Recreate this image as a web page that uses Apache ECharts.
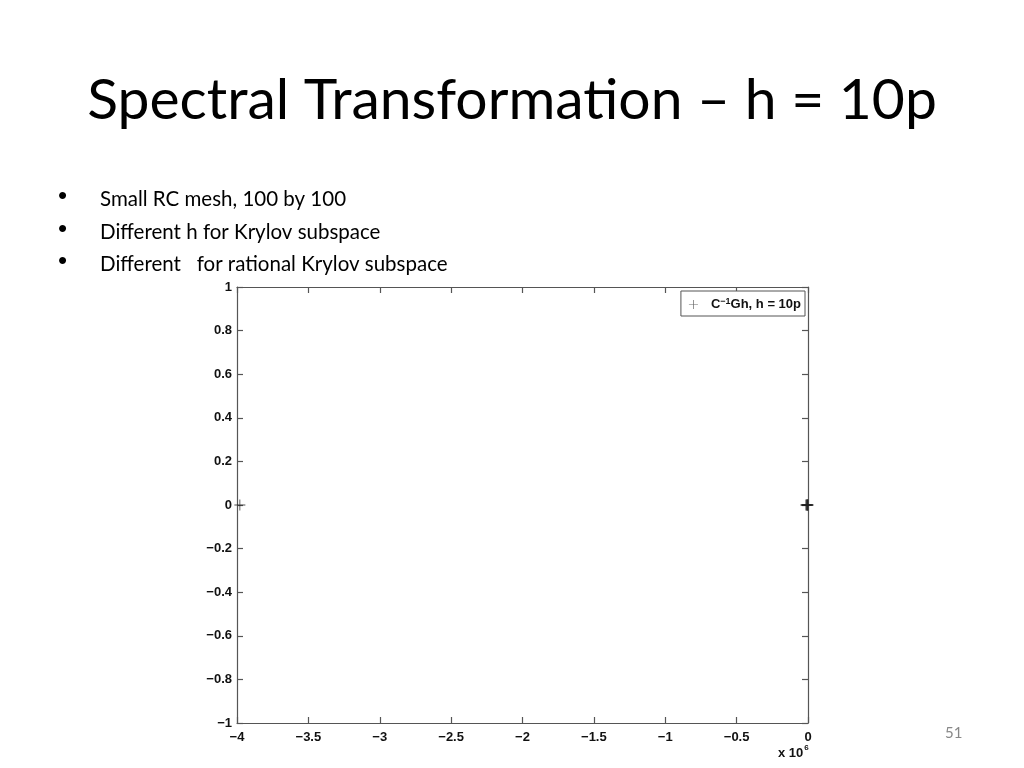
<!DOCTYPE html>
<html><head><meta charset="utf-8">
<script src="https://cdn.jsdelivr.net/npm/echarts@6/dist/echarts.min.js"></script>
<style>html,body{margin:0;padding:0;background:#fff}#c{width:1024px;height:768px}</style>
</head><body><div id="c"></div>
<script>
var titleText = 'Spectral Transformation \u2013 h = 10p';
var bullets = ['Small RC mesh, 100 by 100', 'Different h for Krylov subspace', 'Different   for rational Krylov subspace'];
var seriesName = 'C-1Gh, h = 10p';
var xVals = [-3980000, -15000, -11000, -8000, -5000, -3000, -1500, -500];
var yVals = [0, 0, 0, 0, 0, 0, 0, 0];
var xTicks = [-4, -3.5, -3, -2.5, -2, -1.5, -1, -0.5, 0];
var yTicks = [-1, -0.8, -0.6, -0.4, -0.2, 0, 0.2, 0.4, 0.6, 0.8, 1];
var pageNum = '51';

var plusPath = 'path://M-1,-0.08H1V0.08H-1Z M-0.08,-1H0.08V1H-0.08Z';
var data = xVals.map(function(x, i){ return [x, yVals[i]]; });
function fmt(v){ return String(v).replace('-', '\u2212'); }
var axisFont = {fontFamily:'Liberation Sans', fontWeight:'bold', fontSize:13, color:'#111'};
var lineStyle = {color:'#555', width:1.2};

var chart = echarts.init(document.getElementById('c'), null, {renderer:'canvas'});
var bulletGraphics = [];
bullets.forEach(function(b, i){
  var y = 201 + i*32.5;
  bulletGraphics.push({type:'text', left:58, top:y-17, style:{text:'\u2022', font:'26px Liberation Sans', fill:'#000'}});
  bulletGraphics.push({type:'text', left:100, top:y-12, style:{text:b, font:'20.5px Lato', fill:'#000'}});
});
chart.setOption({
  animation:false,
  title:{text:titleText, left:'center', top:67, textStyle:{fontFamily:'Lato', fontWeight:'normal', fontSize:57, color:'#000'}},
  grid:{left:237, right:216, top:287, bottom:45},
  legend:{
    right:219, top:291, orient:'vertical', itemWidth:9, itemHeight:9, itemGap:0,
    borderColor:'#555', borderWidth:1, padding:[6,4,5,8], backgroundColor:'#fff',
    icon:plusPath,
    formatter:function(){ return '{a|C}{s|\u22121}{a|Gh, h = 10p}'; },
    textStyle:{fontFamily:'Liberation Sans', fontSize:13, color:'#000', padding:[0,0,0,8],
      rich:{a:{fontFamily:'Liberation Sans', fontWeight:'bold', fontSize:13, color:'#111'},
            s:{fontFamily:'Liberation Sans', fontWeight:'bold', fontSize:9, color:'#111', verticalAlign:'top', padding:[0,0,6,0]}}},
    data:[{name:seriesName, itemStyle:{color:'#444'}}]
  },
  xAxis:[{
    type:'value', min:-4000000, max:0, interval:500000,
    axisLine:{show:true, onZero:false, lineStyle:lineStyle},
    axisTick:{inside:true, length:6, lineStyle:lineStyle},
    axisLabel:Object.assign({margin:8, formatter:function(v){return fmt(v/1e6);}}, axisFont),
    splitLine:{show:false}
  },{
    type:'value', position:'top', min:-4000000, max:0, interval:500000,
    axisLine:{show:true, onZero:false, lineStyle:lineStyle},
    axisTick:{inside:true, length:6, lineStyle:lineStyle},
    axisLabel:{show:false}, splitLine:{show:false}
  }],
  yAxis:[{
    type:'value', min:-1, max:1, interval:0.2,
    axisLine:{show:true, onZero:false, lineStyle:lineStyle},
    axisTick:{inside:true, length:6, lineStyle:lineStyle},
    axisLabel:Object.assign({margin:5, formatter:function(v){return fmt(Math.round(v*10)/10);}}, axisFont),
    splitLine:{show:false}
  },{
    type:'value', position:'right', min:-1, max:1, interval:0.2,
    axisLine:{show:true, onZero:false, lineStyle:lineStyle},
    axisTick:{inside:true, length:6, lineStyle:lineStyle},
    axisLabel:{show:false}, splitLine:{show:false}
  }],
  series:[{
    name:seriesName, type:'scatter', xAxisIndex:0, yAxisIndex:0,
    symbol:plusPath, symbolSize:11, itemStyle:{color:'#222'},
    data:data
  }],
  graphic:bulletGraphics.concat([
    {type:'text', left:778, top:744, style:{
      text:'{a|x 10}{b|6}', rich:{
        a:{fontFamily:'Liberation Sans', fontWeight:'bold', fontSize:13, fill:'#111', color:'#111', verticalAlign:'bottom'},
        b:{fontFamily:'Liberation Sans', fontWeight:'bold', fontSize:8, fill:'#111', color:'#111', verticalAlign:'top', padding:[0,0,8,1]}
      }}},
    {type:'text', left:945, top:726, style:{text:pageNum, font:'15px Lato', fill:'#888'}}
  ])
});
</script></body></html>
